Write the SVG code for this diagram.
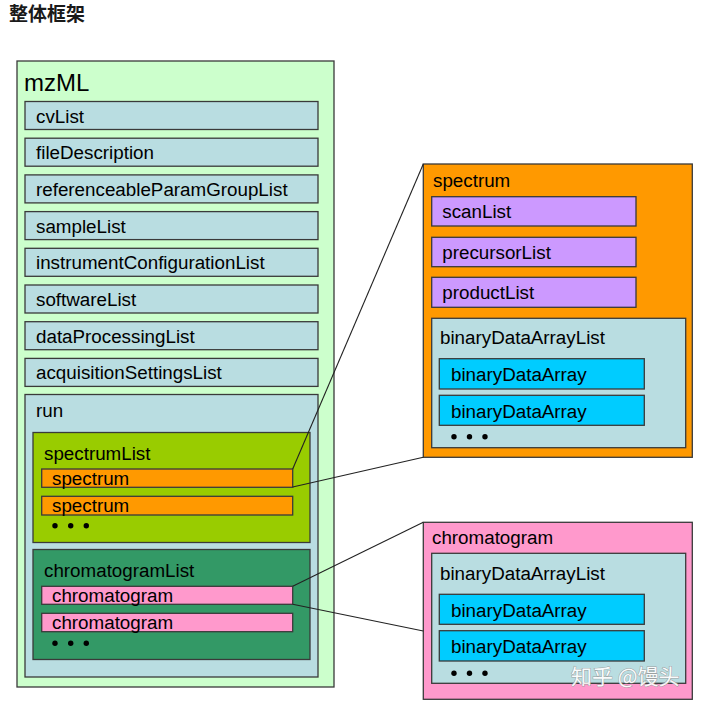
<svg xmlns="http://www.w3.org/2000/svg" width="704" height="719" viewBox="0 0 704 719">
<style>
  .b{stroke:#3a3a3a;stroke-width:1.3}
  .t{font-family:"Liberation Sans",Arial,sans-serif;font-size:18.8px;fill:#000}
  .lb{fill:#b9dde1}
  .or{fill:#ff9900}
  .pk{fill:#ff99cc}
  .pu{fill:#cc99ff}
  .cy{fill:#00ccff}
  .dot{fill:#000}
  .cn{stroke:#222;stroke-width:1.1;fill:none}
</style>
<rect width="704" height="719" fill="#ffffff"/>
<text x="9" y="21" font-family="'Noto Sans CJK SC',sans-serif" font-size="19" font-weight="bold" fill="#1a1a1a">整体框架</text>

<g id="mzML">
  <rect class="b" x="17" y="61" width="317" height="626" fill="#ccffcc"/>
  <text class="t" x="24" y="91" style="font-size:24px">mzML</text>
</g>
<g id="cvList"><rect class="b lb" x="25" y="101.5" width="293" height="28"/><text class="t" x="36" y="122.5">cvList</text></g>
<g id="fileDescription"><rect class="b lb" x="25" y="138.2" width="293" height="28"/><text class="t" x="36" y="159.2">fileDescription</text></g>
<g id="referenceableParamGroupList"><rect class="b lb" x="25" y="174.9" width="293" height="28"/><text class="t" x="36" y="195.9">referenceableParamGroupList</text></g>
<g id="sampleList"><rect class="b lb" x="25" y="211.6" width="293" height="28"/><text class="t" x="36" y="232.6">sampleList</text></g>
<g id="instrumentConfigurationList"><rect class="b lb" x="25" y="248.3" width="293" height="28"/><text class="t" x="36" y="269.3">instrumentConfigurationList</text></g>
<g id="softwareList"><rect class="b lb" x="25" y="285" width="293" height="28"/><text class="t" x="36" y="306">softwareList</text></g>
<g id="dataProcessingList"><rect class="b lb" x="25" y="321.7" width="293" height="28"/><text class="t" x="36" y="342.7">dataProcessingList</text></g>
<g id="acquisitionSettingsList"><rect class="b lb" x="25" y="358.4" width="293" height="28"/><text class="t" x="36" y="379.4">acquisitionSettingsList</text></g>

<g id="run">
  <rect class="b lb" x="25" y="394.5" width="293" height="282.5"/>
  <text class="t" x="36" y="417">run</text>
</g>
<g id="spectrumList">
  <rect class="b" x="33" y="432.5" width="277" height="110" fill="#99cc00"/>
  <text class="t" x="44" y="460">spectrumList</text>
  <circle class="dot" cx="55" cy="525.7" r="2.7"/><circle class="dot" cx="70.7" cy="525.7" r="2.7"/><circle class="dot" cx="86.3" cy="525.7" r="2.7"/>
</g>
<g id="spectrum1"><rect class="b or" x="41.7" y="469" width="251" height="18.3"/><text class="t" x="52" y="484.5">spectrum</text></g>
<g id="spectrum2"><rect class="b or" x="41.7" y="496.3" width="251" height="18.7"/><text class="t" x="52" y="511.8">spectrum</text></g>

<g id="chromatogramList">
  <rect class="b" x="33" y="549.5" width="277" height="110" fill="#339966"/>
  <text class="t" x="44" y="577">chromatogramList</text>
  <circle class="dot" cx="55" cy="643.3" r="2.7"/><circle class="dot" cx="70.7" cy="643.3" r="2.7"/><circle class="dot" cx="86.3" cy="643.3" r="2.7"/>
</g>
<g id="chromatogram1"><rect class="b pk" x="41.7" y="586.3" width="251" height="18"/><text class="t" x="52" y="601.8">chromatogram</text></g>
<g id="chromatogram2"><rect class="b pk" x="41.7" y="613.3" width="251" height="18.4"/><text class="t" x="52" y="629">chromatogram</text></g>

<g id="spectrumDetail">
  <rect class="b or" x="423.3" y="164" width="269" height="293.3"/>
  <text class="t" x="433" y="187">spectrum</text>
</g>
<g id="scanList"><rect class="b pu" x="431.7" y="196.7" width="204.3" height="29.3"/><text class="t" x="442.3" y="218.3">scanList</text></g>
<g id="precursorList"><rect class="b pu" x="431.7" y="237.3" width="204.3" height="29.4"/><text class="t" x="442.3" y="258.6">precursorList</text></g>
<g id="productList"><rect class="b pu" x="431.7" y="277.3" width="204.3" height="30"/><text class="t" x="442.3" y="299">productList</text></g>
<g id="spectrumBinaryDataArrayList">
  <rect class="b lb" x="431.7" y="318.3" width="254" height="129.4"/>
  <text class="t" x="440" y="344">binaryDataArrayList</text>
  <circle class="dot" cx="454" cy="436.7" r="2.7"/><circle class="dot" cx="469.5" cy="436.7" r="2.7"/><circle class="dot" cx="485" cy="436.7" r="2.7"/>
</g>
<g id="spectrumBinaryDataArray1"><rect class="b cy" x="439.3" y="358.7" width="205" height="30.3"/><text class="t" x="451" y="381">binaryDataArray</text></g>
<g id="spectrumBinaryDataArray2"><rect class="b cy" x="439.3" y="395.3" width="205" height="30"/><text class="t" x="451" y="417.7">binaryDataArray</text></g>

<g id="chromatogramDetail">
  <rect class="b pk" x="423.3" y="522.3" width="269" height="177"/>
  <text class="t" x="432" y="543.5">chromatogram</text>
</g>
<g id="chromatogramBinaryDataArrayList">
  <rect class="b lb" x="431.7" y="553.3" width="254" height="130"/>
  <text class="t" x="440" y="580">binaryDataArrayList</text>
  <circle class="dot" cx="454" cy="673.3" r="2.7"/><circle class="dot" cx="469.5" cy="673.3" r="2.7"/><circle class="dot" cx="485" cy="673.3" r="2.7"/>
</g>
<g id="chromatogramBinaryDataArray1"><rect class="b cy" x="439.3" y="594.3" width="205" height="30"/><text class="t" x="451" y="616.7">binaryDataArray</text></g>
<g id="chromatogramBinaryDataArray2"><rect class="b cy" x="439.3" y="630.7" width="205" height="30.3"/><text class="t" x="451" y="652.5">binaryDataArray</text></g>

<g id="connectors">
  <line class="cn" x1="292.7" y1="469" x2="423.3" y2="164"/>
  <line class="cn" x1="292.7" y1="487" x2="423.3" y2="457.3"/>
  <line class="cn" x1="292.7" y1="586.3" x2="423.3" y2="522.3"/>
  <line class="cn" x1="292.7" y1="604.3" x2="423.3" y2="631"/>
</g>

<text x="571" y="684" font-family="'Noto Sans CJK SC',sans-serif" font-size="21" fill="#ffffff" stroke="#9a9a9a" stroke-width="1" paint-order="stroke" opacity="0.9">知乎 @馒头</text>
</svg>
